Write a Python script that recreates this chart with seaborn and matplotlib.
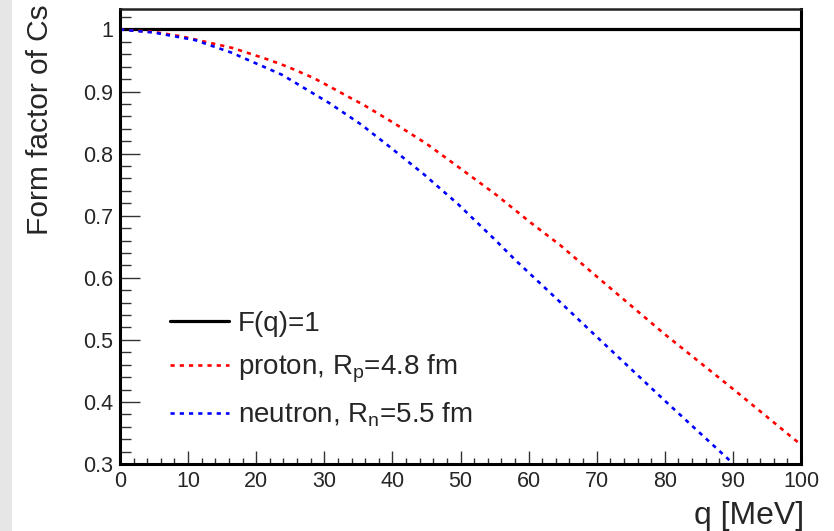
import matplotlib
matplotlib.use("Agg")
import matplotlib.pyplot as plt
from matplotlib.patches import Rectangle
from matplotlib.ticker import MultipleLocator
import seaborn as sns

# ---- data ----
q_flat = [0, 100]
F_flat = [1.0, 1.0]

q_proton = [0, 5, 9, 12.2, 16.6, 21.9, 24.6, 28.4, 30.8, 33.8, 35.7, 40.4, 45, 49.75,
            55.2, 60.4, 64.7, 70, 80, 90, 100]
F_proton = [1.0, 0.996, 0.989, 0.981, 0.970, 0.951, 0.940, 0.922, 0.908, 0.890, 0.879,
            0.848, 0.816, 0.778, 0.734, 0.688, 0.652, 0.602, 0.509, 0.421, 0.331]

q_neutron = [0, 5, 9, 11, 16.3, 23.8, 30.8, 35.4, 39.6, 44.7, 49.6, 55, 58.2, 61.8,
             65, 70, 80, 90, 90.2]
F_neutron = [1.0, 0.995, 0.987, 0.983, 0.963, 0.927, 0.881, 0.847, 0.811, 0.766, 0.719,
             0.662, 0.627, 0.590, 0.557, 0.505, 0.402, 0.301, 0.298]

labels = ["F(q)=1", r"proton, R$_\mathregular{p}$=4.8 fm", r"neutron, R$_\mathregular{n}$=5.5 fm"]
xticks = [0, 10, 20, 30, 40, 50, 60, 70, 80, 90, 100]
yticks = [0.3, 0.4, 0.5, 0.6, 0.7, 0.8, 0.9, 1.0]
ytick_labels = ["0.3", "0.4", "0.5", "0.6", "0.7", "0.8", "0.9", "1"]

sns.set_style("white")
plt.rcParams["font.family"] = ["Liberation Sans", "DejaVu Sans"]
plt.rcParams["mathtext.fontset"] = "custom"
plt.rcParams["mathtext.rm"] = "Liberation Sans"
plt.rcParams["mathtext.it"] = "Liberation Sans:italic"

W, H = 834, 531
fig = plt.figure(figsize=(W / 100, H / 100), dpi=100)
fig.patch.set_facecolor("white")
fig.patches.append(Rectangle((0, 0), 12 / W, 1, transform=fig.transFigure,
                             facecolor="#e6e6e6", edgecolor="none", zorder=0))
ax = fig.add_axes([120 / W, (H - 464) / H, (801 - 120) / W, (464 - 9) / H])

sns.lineplot(x=q_flat, y=F_flat, ax=ax, color="black", linewidth=2.3,
             label=labels[0], errorbar=None, sort=False)
sns.lineplot(x=q_proton, y=F_proton, ax=ax, color="#ff0000", linewidth=1.9,
             linestyle=(0, (1.6, 1.9)), label=labels[1], errorbar=None, sort=False)
sns.lineplot(x=q_neutron, y=F_neutron, ax=ax, color="#0000ff", linewidth=1.9,
             linestyle=(0, (1.6, 1.9)), label=labels[2], errorbar=None, sort=False)

ax.set_xlim(0, 100)
ax.set_ylim(0.3, 1.033)
ax.set_xticks(xticks)
ax.set_xticklabels([str(t) for t in xticks])
ax.set_yticks(yticks)
ax.set_yticklabels(ytick_labels)
ax.xaxis.set_minor_locator(MultipleLocator(2))
ax.yaxis.set_minor_locator(MultipleLocator(0.02))
ax.tick_params(axis="both", which="both", direction="in", top=False, right=False,
               bottom=True, left=True, color="#333333", width=1.0)
ax.tick_params(axis="x", which="major", length=9.5, labelsize=15.5, pad=5)
ax.tick_params(axis="x", which="minor", length=4.5)
ax.tick_params(axis="y", which="major", length=14.5, labelsize=15.5, pad=5)
ax.tick_params(axis="y", which="minor", length=8)

for side in ["left", "bottom", "right", "top"]:
    ax.spines[side].set_visible(True)
    ax.spines[side].set_color("black")
    ax.spines[side].set_linewidth(2.2)
ax.spines["top"].set_linewidth(1.8)
ax.spines["top"].set_color("#222222")

ax.set_xlabel("q [MeV]", fontsize=23, loc="right")
ax.xaxis.set_label_coords(1.004, -0.082)
ax.set_ylabel("Form factor of Cs", fontsize=21.5, loc="top")
ax.yaxis.set_label_coords(-0.097, 1.01)

leg = ax.legend(loc="upper left", bbox_to_anchor=(0.073, 0.337), frameon=False,
                fontsize=20, handlelength=2.15, handletextpad=0.3, labelspacing=0.57,
                borderaxespad=0, borderpad=0)

fig.savefig("out.png", dpi=100)
